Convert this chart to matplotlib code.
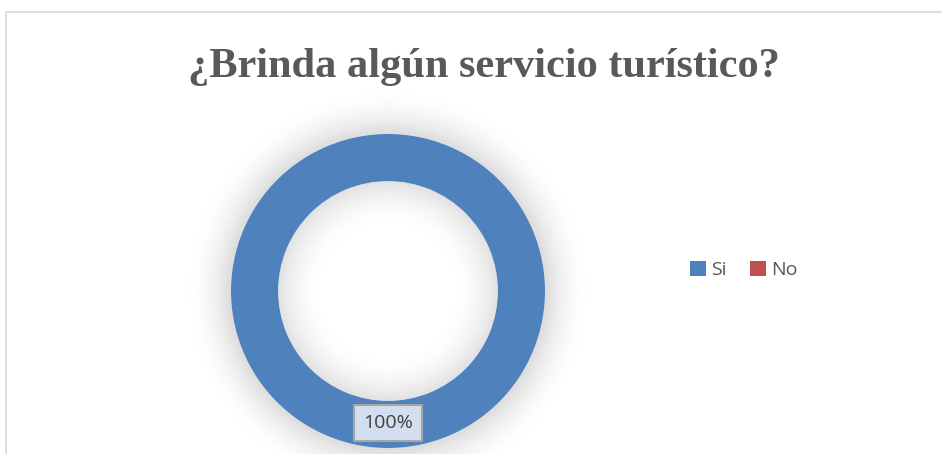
import matplotlib
matplotlib.use("Agg")
import matplotlib.pyplot as plt
from matplotlib.patches import Wedge, Rectangle, Patch

# data
categories = ["Si", "No"]
values = [100, 0]
colors = ["#4F81BD", "#C0504D"]
title = "¿Brinda algún servicio turístico?"

W, H = 942, 454
fig = plt.figure(figsize=(W / 100, H / 100), dpi=100)

# chart frame (cut off at right and bottom in the reference)
frame = fig.add_axes([0, 0, 1, 1])
frame.set_xlim(0, W)
frame.set_ylim(H, 0)
frame.axis("off")
frame.add_patch(Rectangle((5.5, 11.5), W + 10, H + 10, fill=False,
                          edgecolor="#D9D9D9", linewidth=1.2))

fig.text(484 / W, 1 - 67 / H, title, ha="center", va="center",
         fontsize=30.5, fontweight="bold", family="Liberation Serif",
         color="#595959")

# donut axes
cx, cy, r = 388, 291, 157
ax = fig.add_axes([(cx - r) / W, (H - cy - r) / H, 2 * r / W, 2 * r / H])

wedges, _ = ax.pie(values, colors=colors, startangle=90, counterclock=False,
                   radius=1.0, wedgeprops=dict(width=0.30, linewidth=0))
for w in wedges:
    w.set_zorder(2)
ax.set_xlim(-1, 1)
ax.set_ylim(-1, 1)
ax.set_aspect("equal")
ax.axis("off")

# soft shadow around and inside the ring
n = 40
out_w, in_w = 0.30, 0.30
for i in range(n):
    t = (i + 0.5) / n
    ax.add_patch(Wedge((0, 0), 1.0 + out_w * (i + 1) / n, 0, 360,
                       width=out_w / n, facecolor="black",
                       alpha=0.14 * (1 - t) ** 2, linewidth=0,
                       clip_on=False, zorder=0))
    ax.add_patch(Wedge((0, 0), 0.70 - in_w * i / n, 0, 360,
                       width=in_w / n, facecolor="black",
                       alpha=0.12 * (1 - t) ** 2, linewidth=0,
                       clip_on=False, zorder=0))

ax.text(0, -0.84, f"{values[0]}%", ha="center", va="center", fontsize=14,
        family="Open Sans", color="#404040", zorder=5,
        bbox=dict(boxstyle="square,pad=0.45", facecolor="#D3DFEE",
                  edgecolor="#A6A6A6", linewidth=1.5))

handles = [Patch(facecolor=c, edgecolor="none") for c in colors]
leg = fig.legend(handles, categories, loc="center",
                 bbox_to_anchor=(744 / W, 1 - 270 / H), ncol=2, frameon=False,
                 handlelength=0.8, handleheight=0.8, handletextpad=0.3,
                 columnspacing=1.2, prop=dict(family="Open Sans", size=14))
for t in leg.get_texts():
    t.set_color("#595959")

fig.savefig("out.png", dpi=100)
